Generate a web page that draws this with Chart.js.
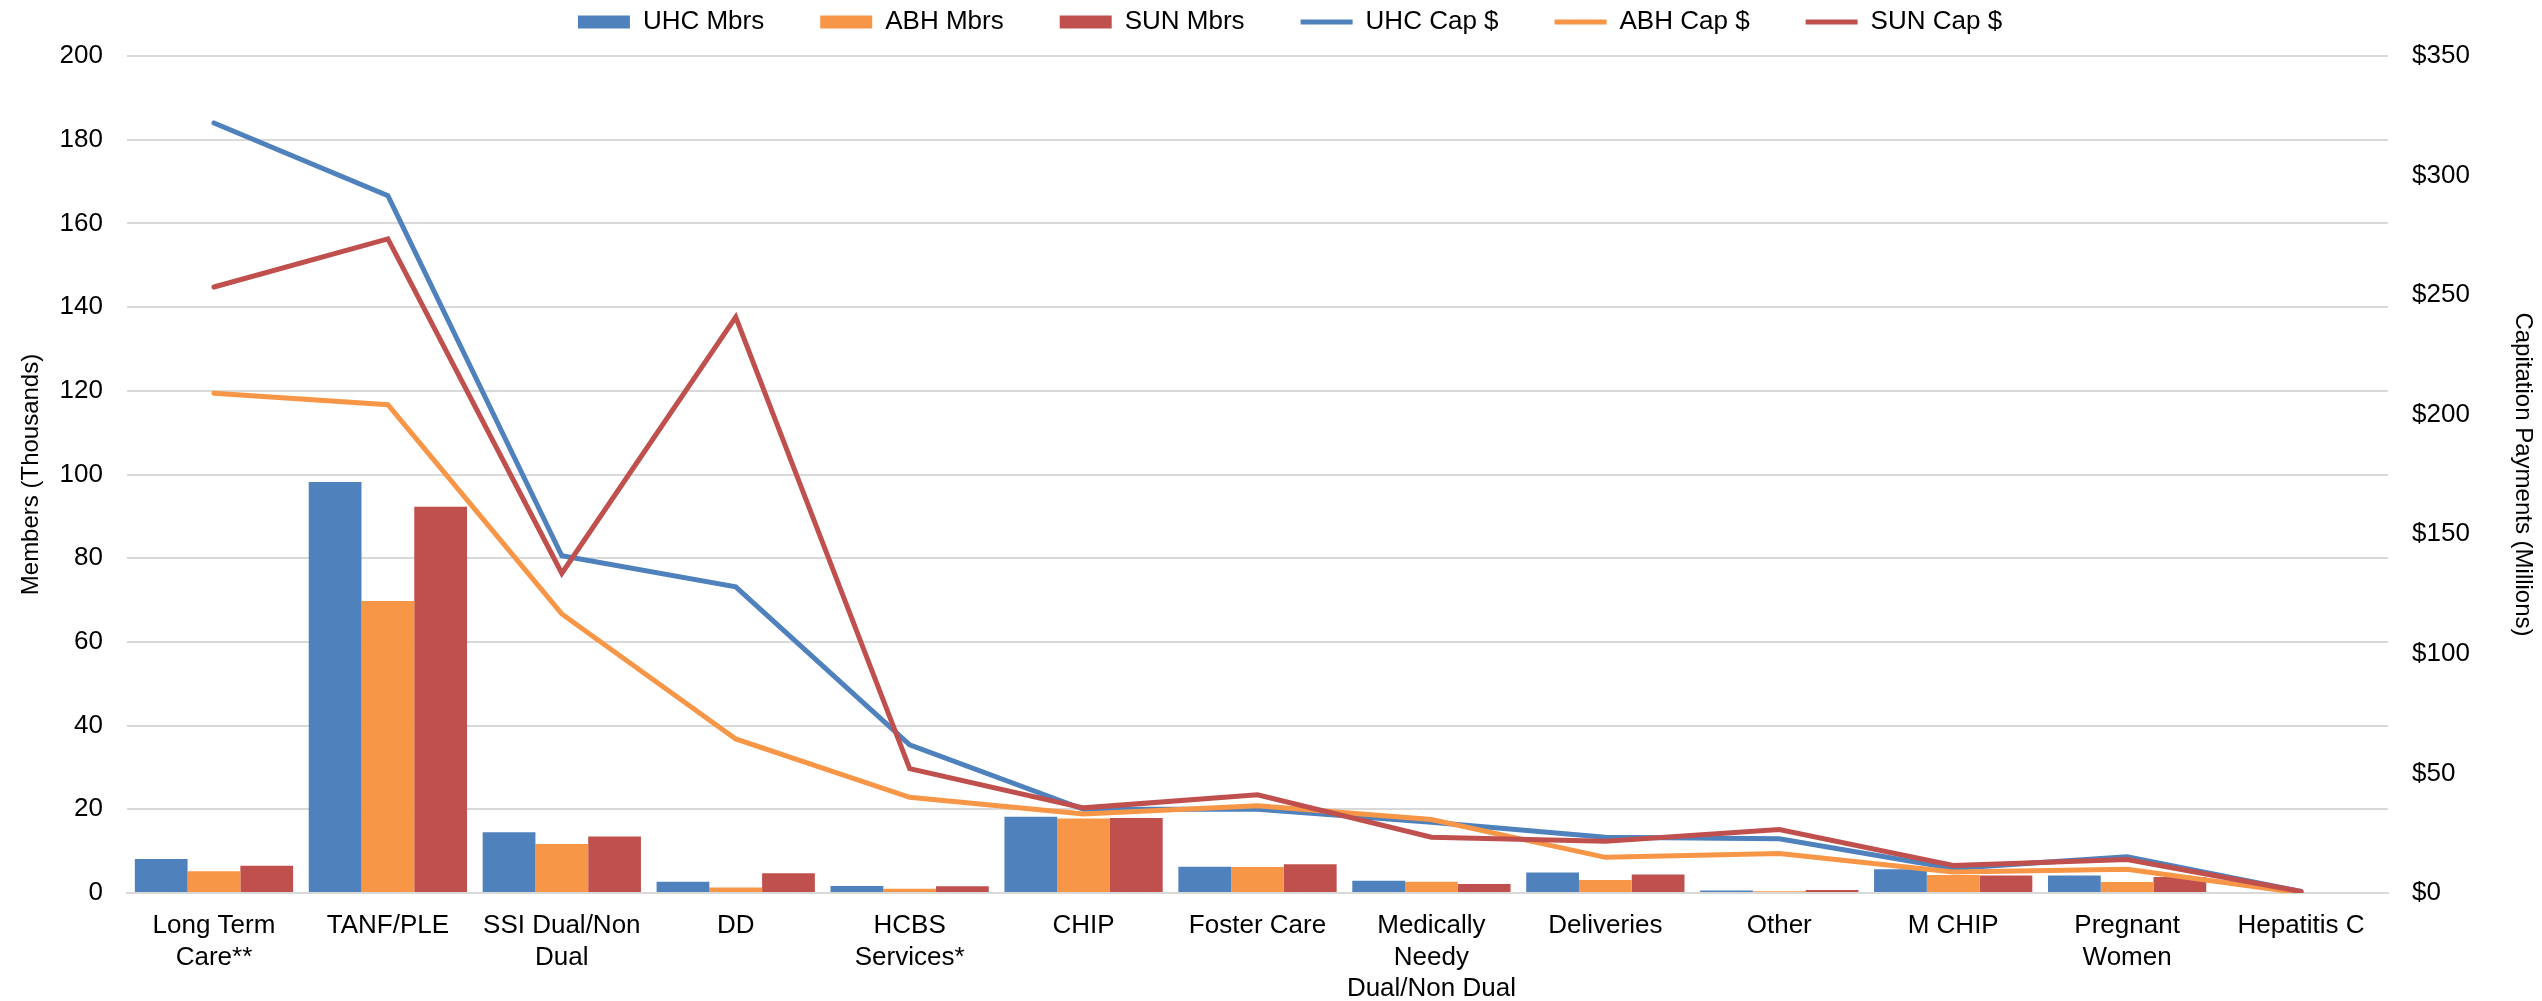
<!DOCTYPE html>
<html>
<head>
<meta charset="utf-8">
<title>Members and Capitation Payments by Category</title>
<script src="https://cdn.jsdelivr.net/npm/chart.js@4.4.0/dist/chart.umd.min.js"></script>
<style>
  html, body { margin: 0; padding: 0; background: #fff; }
  #wrap { width: 2542px; height: 1001px; }
</style>
</head>
<body>
<div id="wrap"><canvas id="chart" width="2542" height="1001"></canvas></div>
<script>
// categories (wrapped the way the axis shows them)
const categories = [
  ['Long Term', 'Care**'], 'TANF/PLE', ['SSI Dual/Non', 'Dual'], 'DD', ['HCBS', 'Services*'],
  'CHIP', 'Foster Care', ['Medically', 'Needy', 'Dual/Non Dual'], 'Deliveries', 'Other',
  'M CHIP', ['Pregnant', 'Women'], 'Hepatitis C'
];

// members, thousands (left axis)
const uhcMbrs = [8.1, 98.2, 14.5, 2.7, 1.7, 18.2, 6.3, 2.9, 4.9, 0.6, 5.7, 4.2, 0];
const abhMbrs = [5.2, 69.8, 11.7, 1.3, 1.0, 17.8, 6.2, 2.7, 3.1, 0.4, 4.3, 2.6, 0];
const sunMbrs = [6.5, 92.3, 13.5, 4.7, 1.6, 17.9, 6.85, 2.15, 4.4, 0.7, 4.2, 3.8, 0];

// capitation payments, $ millions (right axis)
const uhcCap = [322, 291.6, 141, 128, 62, 35, 35, 29.6, 23.3, 22.7, 10.3, 15.2, 0.6];
const abhCap = [209, 204.2, 116.7, 64.4, 40, 33, 36.5, 30.7, 14.9, 16.5, 8.8, 9.9, 0];
const sunCap = [253.4, 273.5, 133.7, 240.8, 52, 35.6, 41.1, 23.3, 21.6, 26.5, 11.5, 14, 0.6];

const blue = '#4F81BD', orange = '#F79646', red = '#C0504D';
const gridGray = '#D9D9D9';
const font = 'Liberation Sans, Arial, sans-serif';

function bar(label, data, color) {
  return {
    type: 'bar', label, data, yAxisID: 'y',
    backgroundColor: color, borderWidth: 0,
    pointStyle: 'rect', order: 5
  };
}
function line(label, data, color, order) {
  return {
    type: 'line', label, data, yAxisID: 'y1',
    borderColor: color, backgroundColor: color, borderWidth: 5,
    pointRadius: 0, tension: 0, borderCapStyle: 'round',
    pointStyle: 'line', order
  };
}

// legend sits tight to the top edge, a bit right of centre
const legendNudge = {
  id: 'legendNudge',
  afterLayout(chart) {
    if (!chart.legend) return;
    chart.legend.top -= 11;
    chart.legend.left += 38;
  }
};

const ctx = document.getElementById('chart').getContext('2d');
const chart = new Chart(ctx, {
  data: {
    labels: categories,
    datasets: [
      bar('UHC Mbrs', uhcMbrs, blue),
      bar('ABH Mbrs', abhMbrs, orange),
      bar('SUN Mbrs', sunMbrs, red),
      line('UHC Cap $', uhcCap, blue, 3),
      line('ABH Cap $', abhCap, orange, 2),
      line('SUN Cap $', sunCap, red, 1)
    ]
  },
  plugins: [legendNudge],
  options: {
    responsive: false,
    animation: false,
    layout: { padding: { top: -36, left: 0, right: 0, bottom: 0 } },
    datasets: {
      bar: { categoryPercentage: 0.91, barPercentage: 1.0 }
    },
    plugins: {
      tooltip: { enabled: false },
      legend: {
        position: 'top',
        labels: {
          usePointStyle: true,
          pointStyleWidth: 52,
          boxHeight: 13,
          padding: 56,
          color: '#000',
          font: { family: font, size: 26 },
          sort: (a, b) => a.datasetIndex - b.datasetIndex
        }
      }
    },
    scales: {
      x: {
        grid: { display: false, drawTicks: false },
        border: { display: true, color: gridGray, width: 2 },
        ticks: {
          color: '#000', padding: 17, maxRotation: 0, autoSkip: false,
          font: { family: font, size: 26, lineHeight: 1.22 }
        },
        afterFit: (s) => { s.height = 108; }
      },
      y: {
        position: 'left',
        min: 0, max: 200,
        ticks: { stepSize: 20, color: '#000', padding: 24, font: { family: font, size: 26 } },
        grid: { color: gridGray, lineWidth: 2, drawTicks: false },
        border: { display: false },
        title: {
          display: true, text: 'Members (Thousands)', color: '#000',
          font: { family: font, size: 24 }, padding: { top: 17, bottom: 0 }
        },
        afterFit: (s) => { s.width = 127; }
      },
      y1: {
        position: 'right',
        min: 0, max: 350,
        ticks: {
          stepSize: 50, color: '#000', padding: 24, font: { family: font, size: 26 },
          callback: (v) => '$' + v
        },
        grid: { display: false, drawTicks: false },
        border: { display: false },
        title: {
          display: true, text: 'Capitation Payments (Millions)', color: '#000',
          font: { family: font, size: 24 }, padding: { top: 5, bottom: 0 }
        },
        afterFit: (s) => { s.width = 154; }
      }
    }
  }
});
</script>
</body>
</html>
